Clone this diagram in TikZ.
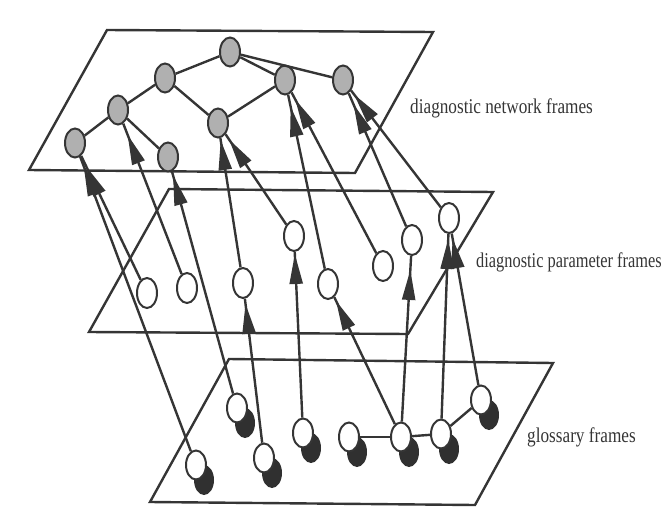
\documentclass[tikz,border=0pt]{standalone}
\usepackage{fontspec}
\usepackage{graphicx}
\setmainfont{Liberation Serif}
\usetikzlibrary{arrows.meta,decorations.markings,shapes.geometric}
\definecolor{ink}{HTML}{353535}
\definecolor{nodegray}{HTML}{B0B0B0}
\definecolor{shadowc}{HTML}{303030}
\begin{document}
\begin{tikzpicture}[x=1pt,y=-1pt,
  plane/.style={draw=ink, line width=2.4pt, line join=miter},
  topnode/.style={ellipse, draw=ink, fill=nodegray, line width=2pt, minimum width=20pt, minimum height=29pt, inner sep=0pt},
  midnode/.style={ellipse, draw=ink, fill=white, line width=2pt, minimum width=20pt, minimum height=30pt, inner sep=0pt},
  glonode/.style={midnode, minimum width=20pt, minimum height=29pt},
  glodark/.style={ellipse, fill=shadowc, minimum width=20pt, minimum height=30pt, inner sep=0pt},
  link/.style={draw=ink, line width=2.4pt},
  arr/.style={draw=ink, line width=2.4pt, postaction={decorate},
    decoration={markings, mark=at position -#1 with {\arrow{Triangle[length=30pt,width=13pt]}}}},
  arr/.default=4pt,
  lbl/.style={anchor=base west, inner sep=0pt, text=ink, font=\fontsize{21}{21}\selectfont}
]
\useasboundingbox (0,0) rectangle (663,519);
\clip (0,0) rectangle (663,519);

% planes
\draw[plane] (107,30) -- (433,32) -- (355,173) -- (29,170) -- cycle;
\draw[plane] (169,189) -- (493,192) -- (408,334) -- (89,332) -- cycle;
\draw[plane] (229,359) -- (553,363) -- (475,505) -- (150,502) -- cycle;

% top nodes
\node[topnode] (T1) at (230,52) {};
\node[topnode] (T2) at (165,78) {};
\node[topnode] (T3) at (285,80) {};
\node[topnode] (T4) at (343,80) {};
\node[topnode] (T5) at (118,110) {};
\node[topnode] (T6) at (218,123) {};
\node[topnode] (T7) at (75,143) {};
\node[topnode] (T8) at (168,157) {};

% middle nodes
\node[midnode] (M1) at (147,293) {};
\node[midnode] (M2) at (187,288) {};
\node[midnode] (M3) at (243,283) {};
\node[midnode] (M4) at (294,236) {};
\node[midnode] (M5) at (328,284) {};
\node[midnode] (M6) at (383,266) {};
\node[midnode] (M7) at (412,240) {};
\node[midnode] (M8) at (449,218) {};

% glossary nodes
\foreach \n/\x/\y in {1/196/465, 2/237/408, 3/264/458, 4/303/433, 5/349/437, 6/401/437, 7/441/434, 8/481/400}{
  \node[glodark] (D\n) at (\x+8,\y+15) {};
  \node[glonode] (G\n) at (\x,\y) {};
}

% network links
\draw[link] (T1) -- (T2);
\draw[link] (T1) -- (T3);
\draw[link] (T1) -- (T4);
\draw[link] (T2) -- (T5);
\draw[link] (T2) -- (T6);
\draw[link] (T3) -- (T6);
\draw[link] (T5) -- (T7);
\draw[link] (T5) -- (T8);

% glossary links
\draw[link] (G5) -- (G6);
\draw[link] (G6) -- (G7);
\draw[link] (G7) -- (G8);

% arrows to network frames
\draw[arr=10pt] (G1) -- (T7);
\draw[arr=12pt] (M1) -- (T7);
\draw[arr=12pt] (M2) -- (T5);
\draw[arr=4pt] (G2) -- (T8);
\draw[arr=2pt] (M3) -- (T6);
\draw[arr=6pt] (M4) -- (T6);
\draw[arr=12pt] (M5) -- (T3);
\draw[arr=8pt] (M6) -- (T3);
\draw[arr=12pt] (M7) -- (T4);
\draw[arr=5pt] (M8) -- (T4);

% arrows to parameter frames
\draw[arr=5pt] (G3) -- (M3);
\draw[arr=2pt] (G4) -- (M4);
\draw[arr=4pt] (G6) -- (M5);
\draw[arr=14pt] (G6) -- (M7);
\draw[arr=5pt] (G7) -- (M8);
\draw[arr=5pt] (G8) -- (M8);

% labels
\node[lbl] (L1) at (410,113) {\scalebox{0.82}[1]{diagnostic network frames}};
\node[lbl] (L2) at (476,267) {\scalebox{0.78}[1]{diagnostic parameter frames}};
\node[lbl] (L3) at (527,442) {\scalebox{0.82}[1]{glossary frames}};
\end{tikzpicture}
\end{document}
